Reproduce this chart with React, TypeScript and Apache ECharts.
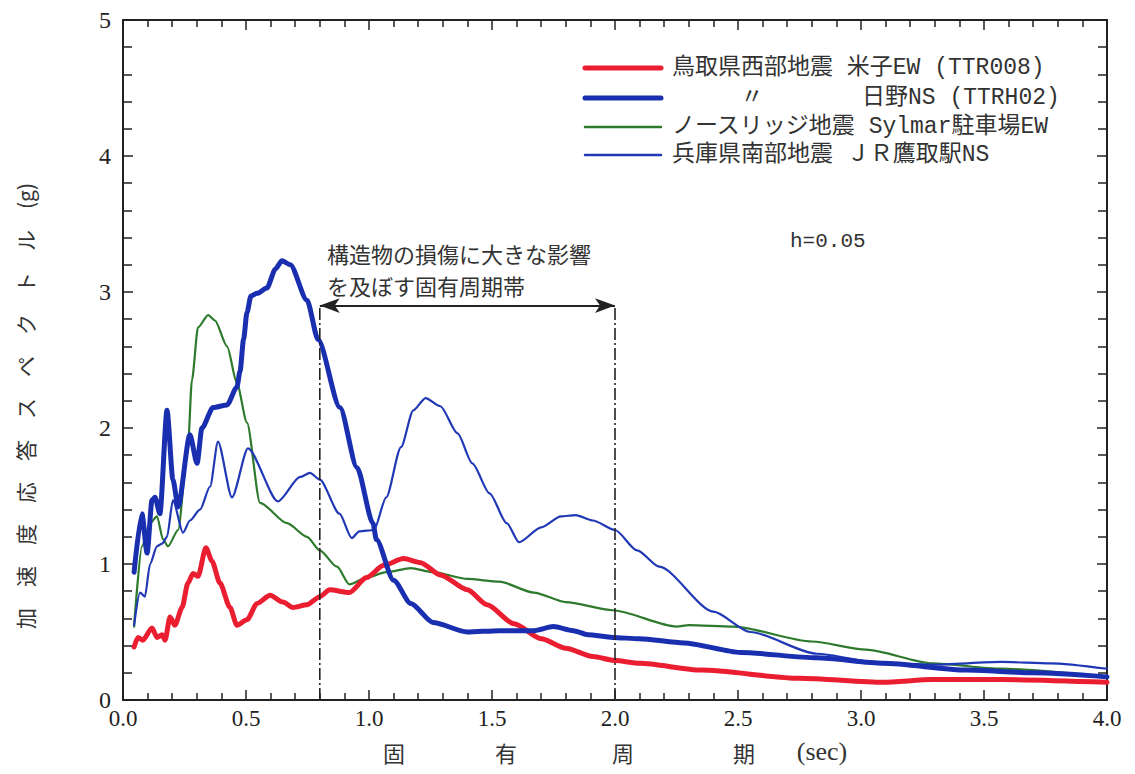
import React, { useEffect, useRef } from "react";
import * as echarts from "echarts";

// ---- Data (period in sec, spectral acceleration in g) ----
const periodsTTR008 = [0.045, 0.061, 0.081, 0.118, 0.138, 0.159, 0.171, 0.191, 0.211, 0.24, 0.264, 0.285, 0.305, 0.337, 0.362, 0.394, 0.435, 0.463, 0.504, 0.545, 0.598, 0.65, 0.691, 0.748, 0.8, 0.84, 0.92, 0.99, 1.06, 1.14, 1.21, 1.29, 1.4, 1.48, 1.59, 1.7, 1.8, 1.91, 2.0, 2.1, 2.35, 2.75, 3.09, 3.29, 3.57, 4.0];
const accTTR008 = [0.39, 0.46, 0.44, 0.53, 0.46, 0.48, 0.44, 0.61, 0.55, 0.68, 0.86, 0.93, 0.91, 1.12, 1.02, 0.86, 0.68, 0.55, 0.59, 0.71, 0.77, 0.72, 0.68, 0.7, 0.76, 0.81, 0.79, 0.9, 0.99, 1.04, 1.01, 0.92, 0.81, 0.7, 0.56, 0.45, 0.38, 0.32, 0.29, 0.27, 0.22, 0.16, 0.13, 0.15, 0.15, 0.13];

const periodsTTRH02 = [0.045, 0.077, 0.098, 0.118, 0.13, 0.15, 0.179, 0.203, 0.224, 0.272, 0.301, 0.321, 0.366, 0.423, 0.463, 0.476, 0.49, 0.504, 0.52, 0.545, 0.585, 0.62, 0.646, 0.68, 0.748, 0.793, 0.882, 0.951, 1.016, 1.03, 1.1, 1.17, 1.26, 1.4, 1.53, 1.67, 1.75, 1.83, 1.89, 1.99, 2.1, 2.28, 2.51, 2.82, 3.09, 3.43, 3.7, 4.0];
const accTTRH02 = [0.94, 1.37, 1.08, 1.47, 1.49, 1.37, 2.13, 1.62, 1.42, 1.95, 1.74, 2.0, 2.15, 2.17, 2.3, 2.42, 2.65, 2.85, 2.97, 2.99, 3.03, 3.17, 3.23, 3.2, 2.94, 2.65, 2.15, 1.71, 1.3, 1.18, 0.88, 0.71, 0.57, 0.5, 0.51, 0.51, 0.54, 0.51, 0.48, 0.46, 0.45, 0.42, 0.35, 0.31, 0.27, 0.22, 0.2, 0.17];

const periodsSylmar = [0.045, 0.077, 0.11, 0.138, 0.163, 0.183, 0.224, 0.264, 0.28, 0.305, 0.346, 0.374, 0.423, 0.463, 0.504, 0.557, 0.667, 0.748, 0.8, 0.87, 0.92, 0.99, 1.07, 1.17, 1.26, 1.4, 1.53, 1.67, 1.8, 1.99, 2.25, 2.3, 2.48, 2.8, 3.02, 3.29, 3.57, 4.0];
const accSylmar = [0.54, 1.13, 1.3, 1.35, 1.18, 1.13, 1.25, 1.86, 2.35, 2.74, 2.83, 2.79, 2.6, 2.33, 2.04, 1.45, 1.3, 1.2, 1.1, 0.98, 0.85, 0.9, 0.94, 0.97, 0.94, 0.89, 0.87, 0.79, 0.72, 0.66, 0.54, 0.55, 0.54, 0.43, 0.37, 0.27, 0.23, 0.17];

const periodsTakatori = [0.045, 0.069, 0.089, 0.11, 0.138, 0.159, 0.179, 0.203, 0.244, 0.272, 0.313, 0.354, 0.386, 0.443, 0.508, 0.63, 0.72, 0.76, 0.8, 0.88, 0.93, 0.96, 1.02, 1.07, 1.13, 1.18, 1.23, 1.29, 1.36, 1.42, 1.49, 1.56, 1.61, 1.7, 1.78, 1.84, 1.91, 2.0, 2.09, 2.18, 2.4, 2.55, 2.82, 3.09, 3.29, 3.57, 3.77, 4.0];
const accTakatori = [0.55, 0.79, 0.76, 1.0, 1.13, 1.15, 1.2, 1.47, 1.23, 1.32, 1.4, 1.57, 1.9, 1.49, 1.85, 1.46, 1.64, 1.67, 1.62, 1.37, 1.19, 1.24, 1.25, 1.49, 1.86, 2.13, 2.22, 2.16, 1.96, 1.74, 1.52, 1.3, 1.16, 1.27, 1.35, 1.36, 1.32, 1.25, 1.1, 0.98, 0.65, 0.5, 0.34, 0.27, 0.26, 0.28, 0.27, 0.23];

const bandStart = 0.8;
const bandEnd = 2.0;
const bandTop = 2.9;

const xTickMax = 4;
const yTickMax = 5;

const seriesNames = [
  "鳥取県西部地震 米子EW (TTR008)",
  "〃 日野NS (TTRH02)",
  "ノースリッジ地震 Sylmar駐車場EW",
  "兵庫県南部地震 ＪＲ鷹取駅NS",
];

const annotationLines = ["構造物の損傷に大きな影響", "を及ぼす固有周期帯"];

const RED = "#ea1d31";
const BLUE_THICK = "#1a2fb0";
const BLUE_THIN = "#2038b4";
const GREEN = "#2d7a2c";
const INK = "#222";

const zip = (xs: number[], ys: number[]) => xs.map((x, i) => [x, ys[i]]);

export default function App() {
  const ref = useRef<HTMLDivElement>(null);
  useEffect(() => {
    if (!ref.current) return;
    const chart = echarts.init(ref.current, undefined, { renderer: "svg" });

    const tickCommon = (pos: string, showLabel: boolean, isX: boolean) => ({
      position: pos,
      axisLine: { show: true, onZero: false, lineStyle: { color: INK, width: 2 } },
      axisTick: { show: true, inside: true, length: 10, lineStyle: { color: INK, width: 1.5 } },
      minorTick: { show: true, splitNumber: 5, length: isX ? 7 : 9, lineStyle: { color: INK, width: 1.5 } },
      splitLine: { show: false },
      minorSplitLine: { show: false },
      axisLabel: showLabel
        ? {
            color: INK,
            fontFamily: "Liberation Serif",
            fontSize: isX ? 23 : 24,
            margin: isX ? 7 : 12,
            formatter: isX ? (v: number) => v.toFixed(1) : (v: number) => String(v),
          }
        : { show: false },
    });

    const lineSeries = (name: string, data: number[][], color: string, width: number) => ({
      name,
      type: "line",
      data,
      showSymbol: false,
      symbol: "none",
      smooth: 0.25,
      smoothMonotone: "x",
      lineStyle: { color, width, cap: "round", join: "round" },
      itemStyle: { color },
      silent: true,
    });

    const legendRows = [
      { y: 68, color: RED, width: 5 },
      { y: 98, color: BLUE_THICK, width: 5 },
      { y: 127, color: GREEN, width: 2.5 },
      { y: 155, color: BLUE_THIN, width: 2.5 },
    ];
    const legendFont = "'Liberation Mono', 'Noto Sans CJK JP', monospace";

    const graphics: any[] = [];
    legendRows.forEach((r) => {
      graphics.push({
        type: "line",
        shape: { x1: 585, y1: r.y, x2: 661, y2: r.y },
        style: { stroke: r.color, lineWidth: r.width, lineCap: "round" },
        z: 10,
      });
    });
    const legendTexts = [
      { x: 672, y: 68, text: seriesNames[0], align: "left" },
      { x: 752, y: 98, text: "〃", align: "center" },
      { x: 862, y: 98, text: "日野NS (TTRH02)", align: "left" },
      { x: 672, y: 127, text: seriesNames[2], align: "left" },
      { x: 672, y: 155, text: seriesNames[3], align: "left" },
    ];
    legendTexts.forEach((t) => {
      graphics.push({
        type: "text",
        x: t.x,
        y: t.y,
        style: {
          text: t.text,
          fill: "#333",
          font: `23px ${legendFont}`,
          textAlign: t.align,
          textVerticalAlign: "middle",
        },
        z: 10,
      });
    });
    graphics.push({
      type: "text",
      x: 790,
      y: 241,
      style: { text: "h=0.05", fill: "#333", font: `21px ${legendFont}`, textVerticalAlign: "middle" },
    });
    graphics.push({
      type: "text",
      x: 327,
      y: 253,
      style: { text: annotationLines[0], fill: "#333", font: "22px 'Noto Sans CJK JP'", textVerticalAlign: "middle" },
    });
    graphics.push({
      type: "text",
      x: 327,
      y: 285,
      style: { text: annotationLines[1], fill: "#333", font: "22px 'Noto Sans CJK JP'", textVerticalAlign: "middle" },
    });
    // y-axis title (rotated)
    graphics.push({
      type: "text",
      x: 25,
      y: 406,
      rotation: Math.PI / 2,
      style: {
        text: "加　速　度　応　答　ス　ペ　ク　ト　ル　(g)",
        fill: "#333",
        font: "21px 'Noto Sans CJK JP'",
        textAlign: "center",
        textVerticalAlign: "middle",
      },
    });
    // x-axis title
    const xTitle = [
      { x: 394, t: "固" },
      { x: 506, t: "有" },
      { x: 623, t: "周" },
      { x: 744, t: "期" },
    ];
    xTitle.forEach((c) => {
      graphics.push({
        type: "text",
        x: c.x,
        y: 752,
        style: { text: c.t, fill: "#333", font: "22px 'Noto Sans CJK JP'", textAlign: "center", textVerticalAlign: "middle" },
      });
    });
    graphics.push({
      type: "text",
      x: 822,
      y: 751,
      style: { text: "(sec)", fill: "#333", font: "26px 'Liberation Serif'", textAlign: "center", textVerticalAlign: "middle" },
    });

    const dashDot = { color: INK, width: 1.6, type: [12, 3, 2, 3] };

    chart.setOption({
      animation: false,
      backgroundColor: "#fff",
      grid: { left: 123, right: 28, top: 20, bottom: 74, containLabel: false },
      xAxis: [
        { type: "value", min: 0, max: xTickMax, interval: 0.5, ...tickCommon("bottom", true, true) },
        { type: "value", min: 0, max: xTickMax, interval: 0.5, ...tickCommon("top", false, true) },
      ],
      yAxis: [
        { type: "value", min: 0, max: yTickMax, interval: 1, ...tickCommon("left", true, false) },
        { type: "value", min: 0, max: yTickMax, interval: 1, ...tickCommon("right", false, false) },
      ],
      graphic: graphics,
      series: [
        lineSeries(seriesNames[2], zip(periodsSylmar, accSylmar), GREEN, 2.2),
        lineSeries(seriesNames[3], zip(periodsTakatori, accTakatori), BLUE_THIN, 2.2),
        lineSeries(seriesNames[0], zip(periodsTTR008, accTTR008), RED, 5),
        lineSeries(seriesNames[1], zip(periodsTTRH02, accTTRH02), BLUE_THICK, 5),
        {
          name: "band-start",
          type: "line",
          data: [[bandStart, 0], [bandStart, bandTop]],
          showSymbol: false,
          symbol: "none",
          lineStyle: dashDot,
          silent: true,
        },
        {
          name: "band-end",
          type: "line",
          data: [[bandEnd, 0], [bandEnd, bandTop]],
          showSymbol: false,
          symbol: "none",
          lineStyle: dashDot,
          silent: true,
          markLine: {
            silent: true,
            symbol: ["arrow", "arrow"],
            symbolSize: [11, 20],
            label: { show: false },
            lineStyle: { color: INK, width: 2, type: "solid" },
            itemStyle: { color: INK },
            data: [[{ coord: [bandStart, bandTop] }, { coord: [bandEnd, bandTop] }]],
          },
        },
      ],
    });
    return () => chart.dispose();
  }, []);

  return (
    <div
      ref={ref}
      style={{ position: "absolute", left: 0, top: 0, width: 1135, height: 774, background: "#fff" }}
    />
  );
}
